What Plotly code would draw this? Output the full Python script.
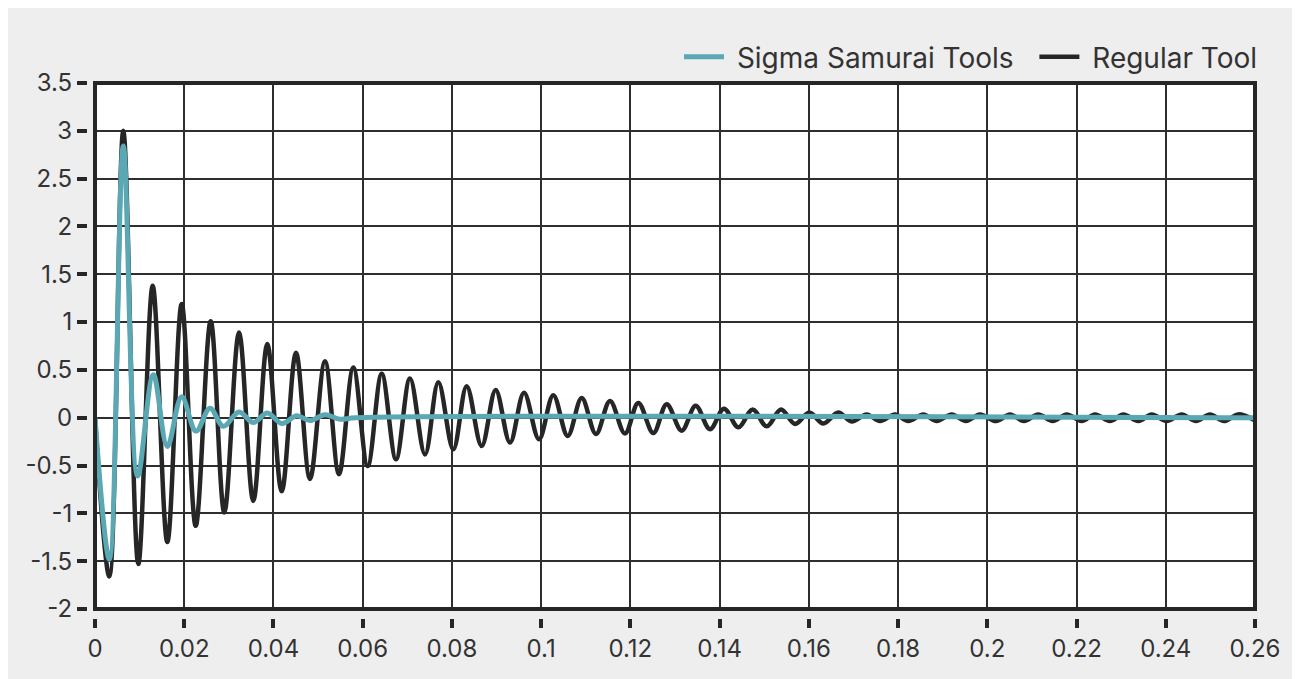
import plotly.graph_objects as go

# ---- data ----
regular_t = [0, 0.00321, 0.00634, 0.00971, 0.01293, 0.01621, 0.01943, 0.02257, 0.02593, 0.02898,
             0.03228, 0.03548, 0.03862, 0.04185, 0.04505, 0.04819, 0.05155, 0.05469, 0.05790, 0.06112,
             0.06426, 0.06747, 0.07060, 0.07397, 0.07695, 0.08031, 0.08331, 0.08667, 0.08981, 0.09302,
             0.09616, 0.09952, 0.10272, 0.10595, 0.10909, 0.11229, 0.11543, 0.11879, 0.12177, 0.12514,
             0.12814, 0.13150, 0.13464, 0.13784, 0.14098, 0.14419, 0.14741, 0.15055, 0.15376, 0.15690,
             0.16010, 0.16324, 0.16660, 0.16960, 0.17297, 0.17595, 0.17931, 0.18229, 0.18566, 0.18866,
             0.19202, 0.19522, 0.19836, 0.20195, 0.20509, 0.20822, 0.21143, 0.21466, 0.21780, 0.22115,
             0.22414, 0.22750, 0.23048, 0.23385, 0.23684, 0.24021, 0.24357, 0.24678, 0.24991, 0.25305,
             0.25626, 0.26]
regular_v = [0, -1.66, 3.00, -1.53, 1.38, -1.30, 1.19, -1.13, 1.01, -0.99,
             0.89, -0.87, 0.77, -0.77, 0.68, -0.64, 0.59, -0.59, 0.525, -0.505,
             0.46, -0.435, 0.41, -0.385, 0.37, -0.33, 0.33, -0.295, 0.29, -0.26,
             0.26, -0.225, 0.235, -0.19, 0.205, -0.17, 0.175, -0.165, 0.155, -0.16,
             0.14, -0.135, 0.125, -0.12, 0.095, -0.10, 0.085, -0.09, 0.085, -0.065,
             0.055, -0.06, 0.055, -0.04, 0.035, -0.035, 0.035, -0.035, 0.035, -0.035,
             0.035, -0.035, 0.035, -0.035, 0.035, -0.035, 0.035, -0.035, 0.035, -0.035,
             0.035, -0.035, 0.035, -0.035, 0.035, -0.035, 0.035, -0.035, 0.035, -0.035,
             0.035, -0.03]

sigma_t = [0, 0.00321, 0.00634, 0.00957, 0.01307, 0.01621, 0.01943, 0.02264, 0.02578, 0.02876,
           0.03228, 0.03548, 0.03862, 0.04185, 0.04521, 0.04819, 0.05155, 0.05491, 0.0585, 0.26]
sigma_v = [0, -1.48, 2.84, -0.61, 0.45, -0.30, 0.22, -0.14, 0.10, -0.09,
           0.06, -0.05, 0.05, -0.06, 0.02, -0.03, 0.03, -0.015, 0, 0]

x_tickvals = [0, 0.02, 0.04, 0.06, 0.08, 0.1, 0.12, 0.14, 0.16, 0.18, 0.2, 0.22, 0.24, 0.26]
x_ticktext = ["0", "0.02", "0.04", "0.06", "0.08", "0.1", "0.12", "0.14", "0.16", "0.18",
              "0.2", "0.22", "0.24", "0.26"]
y_tickvals = [-2, -1.5, -1, -0.5, 0, 0.5, 1, 1.5, 2, 2.5, 3, 3.5]
y_ticktext = ["-2", "-1.5", "-1", "-0.5", "0", "0.5", "1", "1.5", "2", "2.5", "3", "3.5"]

TEAL = "#5aa8b4"
DARK = "#262626"
GRID = "#2e2e2e"
FONT = "Inter"
NB = "\u00a0"

fig = go.Figure()
fig.add_trace(go.Scatter(x=regular_t, y=regular_v, mode="lines", name=NB + "Regular Tool",
                         line=dict(color=DARK, width=4.5, shape="spline", smoothing=1),
                         legendrank=2))
fig.add_trace(go.Scatter(x=sigma_t, y=sigma_v, mode="lines",
                         name=NB + "Sigma Samurai Tools" + NB * 2,
                         line=dict(color=TEAL, width=5, shape="spline", smoothing=1),
                         legendrank=1))

W, H = 1292, 671
ML, MR, MT, MB = 79, 45, 75, 61
PW = W - ML - MR
PH = H - MT - MB

fig.update_layout(
    width=W, height=H,
    margin=dict(l=ML, r=MR, t=MT, b=MB),
    paper_bgcolor="#eeeeee",
    plot_bgcolor="white",
    font=dict(family=FONT, size=24, color="#333333"),
    showlegend=True,
    legend=dict(orientation="h", x=1.0 + 8 / PW, xanchor="right", y=(H - MB - 49) / PH,
                yanchor="middle",
                bgcolor="rgba(0,0,0,0)", font=dict(family=FONT, size=28, color="#333333"),
                itemwidth=40, traceorder="normal"),
    xaxis=dict(range=[0, 0.26], domain=[8 / PW, 1], anchor="free", position=0,
               tickvals=x_tickvals, ticktext=x_ticktext,
               ticks="outside", ticklen=9, tickwidth=3.5, tickcolor=DARK,
               showline=False, zeroline=False,
               showgrid=True, gridcolor=GRID, gridwidth=2),
    yaxis=dict(range=[-2, 3.5], domain=[9 / PH, 1], anchor="free", position=0,
               tickvals=y_tickvals, ticktext=y_ticktext,
               ticks="outside", ticklen=10, tickwidth=3.5, tickcolor=DARK,
               showline=False, zeroline=False,
               showgrid=True, gridcolor=GRID, gridwidth=2),
    shapes=[
        dict(type="rect", xref="x domain", yref="y domain", x0=0, x1=1, y0=0, y1=1,
             line=dict(color=DARK, width=4), layer="above"),
    ],
)

fig.write_html("out.html")
